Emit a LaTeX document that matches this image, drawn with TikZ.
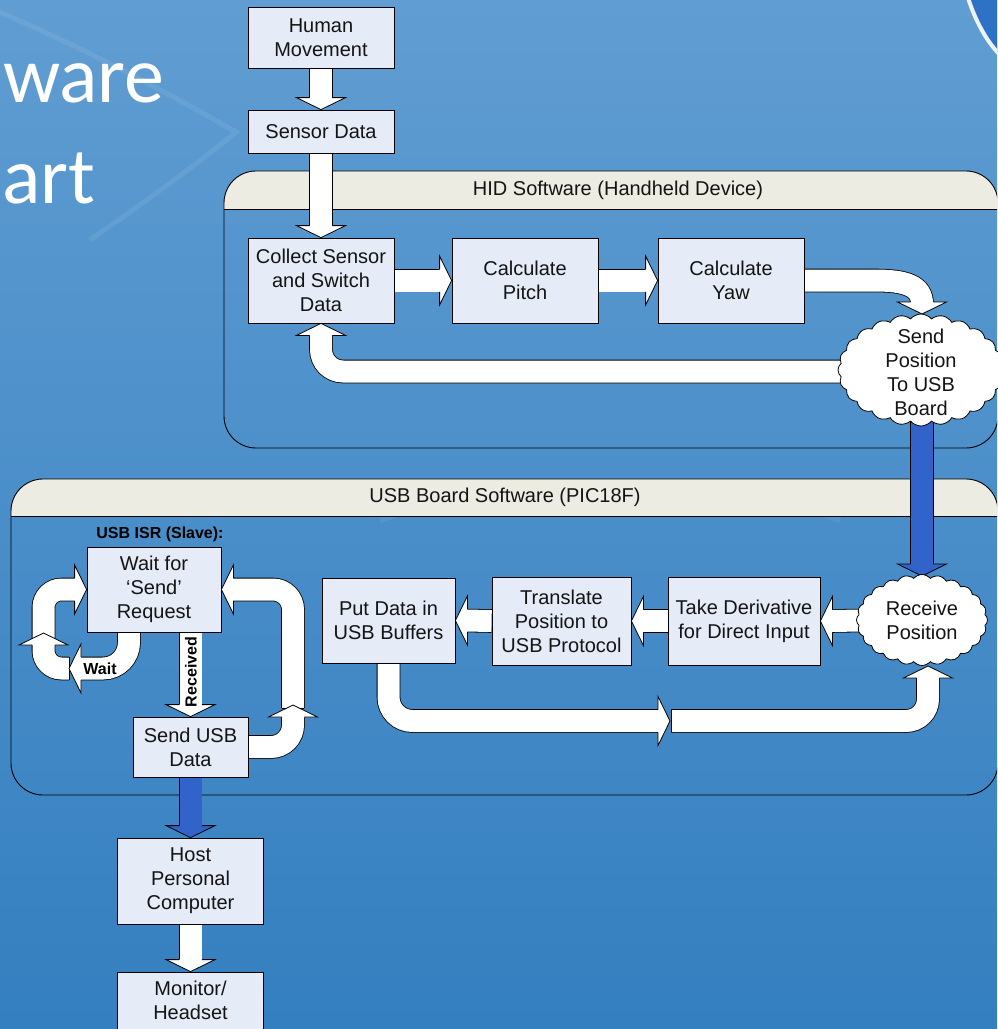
\documentclass[tikz,border=0pt]{standalone}
\usepackage{fontspec}
\setmainfont{Liberation Sans}
\newfontfamily\titlefont{Carlito}
\usetikzlibrary{shapes.symbols,calc}
\pgfdeclarelayer{background}
\pgfdeclarelayer{arrowlayer}
\pgfsetlayers{background,arrowlayer,main}
\definecolor{boxfill}{HTML}{E5ECF7}
\definecolor{hdrfill}{HTML}{ECECE3}
\definecolor{arrowblue}{HTML}{3163CB}
\definecolor{bgtop}{HTML}{609DD2}
\definecolor{bgmid}{HTML}{4388C6}
\definecolor{bgbot}{HTML}{347FC0}
\definecolor{logoblue}{HTML}{2E72C6}
\newcommand\bhead[3][white]{%
  \begin{scope}[shift={#2},rotate=#3]
    \filldraw[fill=#1,draw=black,line width=0.8pt,line join=miter]
      (-12,-11.4) -- (-12,-24.5) -- (0,0) -- (-12,24.5) -- (-12,11.4);
  \end{scope}}
\tikzset{
  proc/.style={draw=black, line width=0.8pt, fill=boxfill, align=center, inner sep=0pt,
    text=black!92, font=\fontsize{20}{24}\selectfont},
  cloudnode/.style={cloud, draw=black, line width=0.8pt, fill=white, cloud puffs=24,
    cloud puff arc=100, inner sep=0pt},
  cloudtext/.style={align=center, inner sep=0pt, text=black!92, font=\fontsize{20}{24}\selectfont},
  shaft/.style={draw=black, line width=0.8pt, double=white, double distance=22pt},
  blueshaft/.style={shaft, double=arrowblue},
  container/.style={draw=black, line width=0.9pt, rounded corners=32pt},
  hdrtext/.style={inner sep=0pt, text=black!92, font=\fontsize{20}{24}\selectfont},
  smallbold/.style={inner sep=0pt, text=black, font=\bfseries\fontsize{16}{19}\selectfont},
  title/.style={inner sep=0pt, text=white, font=\titlefont\fontsize{80}{96}\selectfont},
}
\begin{document}
\begin{tikzpicture}[x=1pt,y=-1pt]
\useasboundingbox (0,0) rectangle (997,1029);

% ---------- nodes ----------
\node[proc, minimum width=146pt, minimum height=61pt] (hm) at (321,37.5) {Human\\Movement};
\node[proc, minimum width=146pt, minimum height=43pt] (sd) at (321,131.5) {Sensor Data};
\node[proc, minimum width=146pt, minimum height=85pt] (col) at (321,280.5) {Collect Sensor\\and Switch\\Data};
\node[proc, minimum width=146pt, minimum height=85pt] (pit) at (525,280.5) {Calculate\\Pitch};
\node[proc, minimum width=146pt, minimum height=85pt] (yaw) at (731,280.5) {Calculate\\Yaw};
\node[cloudnode, minimum width=166pt, minimum height=112pt] (spos) at (921,370) {};
\node[cloudtext] (spost) at (921,372) {Send\\Position\\To USB\\Board};
\node[cloudnode, minimum width=131pt, minimum height=91pt] (rpos) at (922,620) {};
\node[cloudtext] (rpost) at (922,620) {Receive\\Position};
\node[proc, minimum width=152pt, minimum height=88pt] (take) at (744,621) {Take Derivative\\for Direct Input};
\node[proc, minimum width=139pt, minimum height=88pt] (tra) at (561.5,621) {Translate\\Position to\\USB Protocol};
\node[proc, minimum width=133pt, minimum height=85pt] (put) at (388.5,620.5) {Put Data in\\USB Buffers};
\node[proc, minimum width=134pt, minimum height=85pt] (wait) at (154,589.5) {Wait for\\‘Send’\\Request};
\node[proc, minimum width=115pt, minimum height=60pt] (susb) at (190.5,747) {Send USB\\Data};
\node[proc, minimum width=146pt, minimum height=86pt] (host) at (190.5,881) {Host\\Personal\\Computer};
\node[proc, minimum width=146pt, minimum height=57pt] (mon) at (190.5,1000.5) {Monitor/\\Headset};
\node[smallbold] (isr) at (160,534) {USB ISR (Slave):};
\node[smallbold, rotate=90] (recl) at (191,672) {Received};
\node[smallbold] (waitl) at (100,669) {Wait};

\coordinate (sposN) at (922,314);
\coordinate (sposW) at (850,371.5);
\coordinate (sposS) at (922,415);
\coordinate (rposN) at (922,576);
\coordinate (rposE) at (862,620.5);
\coordinate (rposS) at (928,666);

% ---------- background and containers ----------
\begin{pgfonlayer}{background}
\shade[top color=bgtop, middle color=bgmid, bottom color=bgbot] (0,0) rectangle (997,1029);
\begin{scope}
\clip (0,0) rectangle (997,1029);
\draw[white, opacity=0.08, line width=5pt] (-10,8) .. controls (90,50) and (180,100) .. (236,132)
  .. controls (190,170) and (140,205) .. (90,240);
\draw[white, opacity=0.07, line width=6pt] (380,520) .. controls (520,470) and (700,470) .. (840,520);
\fill[logoblue] (968,-2) .. controls (976,22) and (986,40) .. (999,54) -- (999,-2) -- cycle;
\draw[white, opacity=0.9, line width=4pt] (968,-2) .. controls (976,22) and (986,40) .. (999,54);
\node[title, anchor=base west] (t1) at (3,102) {ware};
\node[title, anchor=base west] (t2) at (2,203) {art};
% HID container
\begin{scope}
\clip (224,171) rectangle (1000,209);
\fill[hdrfill, rounded corners=32pt] (224,171) rectangle (998,448);
\end{scope}
\draw[container] (224,171) rectangle (998,448);
\draw[line width=0.9pt] (224,209) -- (998,209);
% USB container
\begin{scope}
\clip (11,479) rectangle (1000,516);
\fill[hdrfill, rounded corners=32pt] (11,479) rectangle (998,795);
\end{scope}
\draw[container] (11,479) rectangle (998,795);
\draw[line width=0.9pt] (11,516) -- (998,516);
\end{scope}
\node[hdrtext] (hidl) at (618,190) {HID Software (Handheld Device)};
\node[hdrtext] (usbl) at (505,497) {USB Board Software (PIC18F)};
\end{pgfonlayer}

% ---------- block arrows ----------
\begin{pgfonlayer}{arrowlayer}
% HID chain
\draw[shaft] (hm.south) -- ($(sd.north)+(0,-10)$);
\bhead{(sd.north)}{-90}
\draw[shaft] (sd.south) -- ($(col.north)+(0,-10)$);
\bhead{(col.north)}{-90}
\draw[shaft] (col.east) -- ($(pit.west)+(-10,0)$);
\bhead{(pit.west)}{0}
\draw[shaft] (pit.east) -- ($(yaw.west)+(-10,0)$);
\bhead{(yaw.west)}{0}
\draw[shaft] (yaw.east) -- (875,280.5) .. controls (906,280.5) and (922,286) .. ($(sposN)+(0,-10)$);
\bhead{(sposN)}{-90}
\draw[shaft, rounded corners=22pt] (sposW) -- (col.south |- sposW) -- ($(col.south)+(0,10)$);
\bhead{(col.south)}{90}
% HID -> USB board (blue)
\draw[blueshaft] (sposS) -- ($(rposN)+(0,-10)$);
\bhead[arrowblue]{(rposN)}{-90}
% USB board chain
\draw[shaft] (rposE) -- ($(take.east)+(10,0)$);
\bhead{(take.east)}{180}
\draw[shaft] (take.west) -- ($(tra.east)+(10,0)$);
\bhead{(tra.east)}{180}
\draw[shaft] (tra.west) -- ($(put.east)+(10,0)$);
\bhead{(put.east)}{180}
\draw[shaft, rounded corners=22pt] (671,721) -- (rposS |- 0,721) -- ($(rposS)+(0,10)$);
\draw[line width=0.8pt] (671,709.6) -- (671,732.4);
\bhead{(rposS)}{90}
\coordinate (midR) at (670,721);
\draw[shaft, rounded corners=24pt] (put.south) -- (put.south |- midR) -- ($(midR)+(-10,0)$);
\bhead{(midR)}{0}
% ISR loop: Send USB -> Wait
\coordinate (upT) at (293,705);
\draw[shaft, rounded corners=20pt] (293,708) -- (upT |- wait.east) -- ($(wait.east)+(10,0)$);
\draw[line width=0.8pt] (281.6,708) -- (304.4,708);
\bhead{(wait.east)}{180}
\draw[shaft, rounded corners=22pt] (susb.east) -- (upT |- susb.east) -- ($(upT)+(0,10)$);
\bhead{(upT)}{90}
% Received
\draw[shaft] (wait.south -| susb.north) -- ($(susb.north)+(0,-10)$);
\bhead{(susb.north)}{-90}
% Wait loop
\coordinate (lpA) at (43.5,633);
\coordinate (lpB) at (69,668.5);
\draw[shaft, rounded corners=18pt] (43.5,641) -- (lpA |- wait.west) -- ($(wait.west)+(-10,0)$);
\bhead{(wait.west)}{0}
\draw[shaft, rounded corners=18pt] (lpB) -- (lpA |- lpB) -- ($(lpA)+(0,10)$);
\draw[line width=0.8pt] (69,657.1) -- (69,679.9);
\bhead{(lpA)}{90}
\draw[shaft, rounded corners=26pt] ($(wait.south)+(-25,0)$) -- ($(wait.south |- lpB)+(-25,0)$) -- ($(lpB)+(10,0)$);
\bhead{(lpB)}{180}
% to host and monitor
\draw[blueshaft] (susb.south) -- ($(host.north)+(0,-10)$);
\bhead[arrowblue]{(host.north)}{-90}
\draw[shaft] (host.south) -- ($(mon.north)+(0,-10)$);
\bhead{(mon.north)}{-90}
\end{pgfonlayer}
\end{tikzpicture}
\end{document}
